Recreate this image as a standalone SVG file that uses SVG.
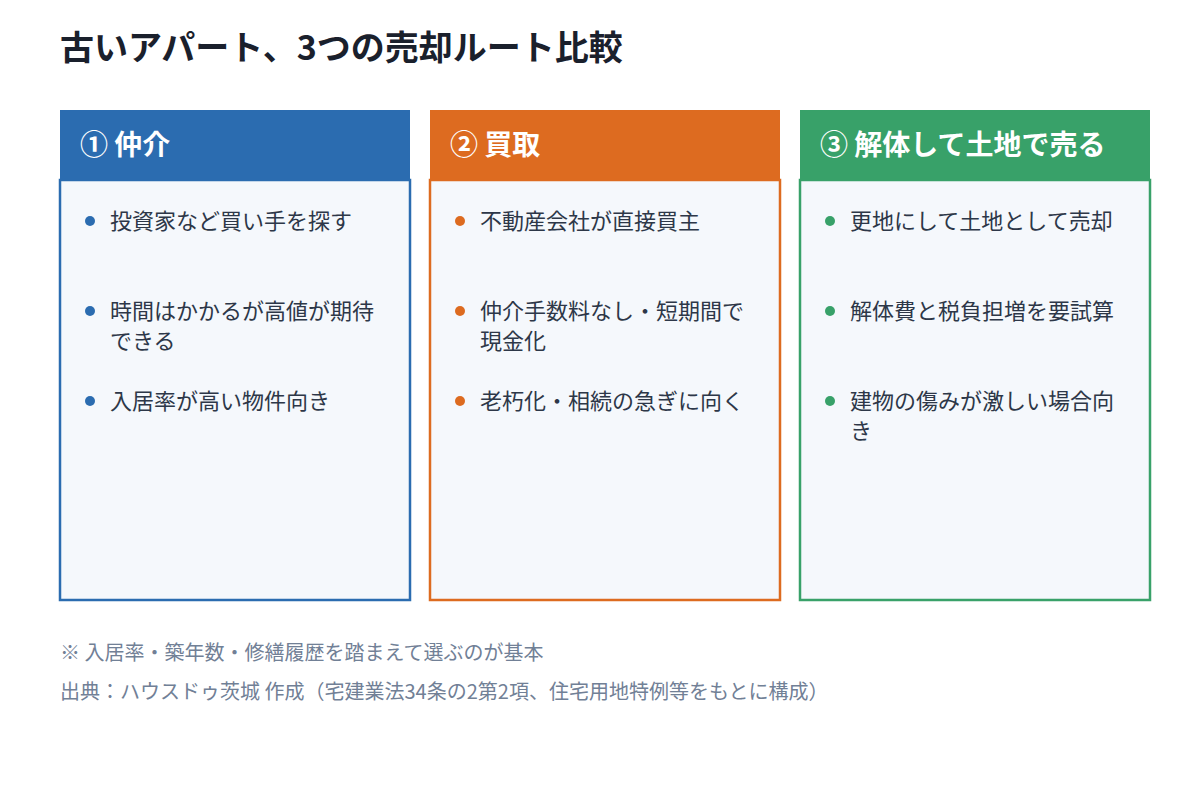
<svg xmlns="http://www.w3.org/2000/svg" width="1200" height="800" viewBox="0 0 1200 800">
<style>
text{font-family:"Noto Sans CJK JP","Noto Sans",sans-serif}
.title{font-size:34px;font-weight:700;fill:#1a202c}
.hd{font-size:28px;font-weight:700;fill:#fff}
.it{font-size:22px;fill:#2d3748}
.ft{font-size:20px;fill:#718096}
.body{fill:#f5f8fc;stroke-width:2.5}
</style>
<rect width="1200" height="800" fill="#fff"/>
<text class="title" x="60" y="60">古いアパート、3つの売却ルート比較</text>
<g id="col1">
<rect class="body" x="60" y="180" width="350" height="420" stroke="#2b6cb0"/>
<rect x="60" y="110" width="350" height="70" fill="#2b6cb0"/>
<text class="hd" x="80" y="155">① 仲介</text>
<circle cx="90" cy="221" r="5" fill="#2b6cb0"/>
<text class="it" x="110" y="229">投資家など買い手を探す</text>
<circle cx="90" cy="311" r="5" fill="#2b6cb0"/>
<text class="it" x="110" y="319">時間はかかるが高値が期待</text>
<text class="it" x="110" y="349">できる</text>
<circle cx="90" cy="401" r="5" fill="#2b6cb0"/>
<text class="it" x="110" y="409">入居率が高い物件向き</text>
</g>
<g id="col2">
<rect class="body" x="430" y="180" width="350" height="420" stroke="#dd6b20"/>
<rect x="430" y="110" width="350" height="70" fill="#dd6b20"/>
<text class="hd" x="450" y="155">② 買取</text>
<circle cx="460" cy="221" r="5" fill="#dd6b20"/>
<text class="it" x="480" y="229">不動産会社が直接買主</text>
<circle cx="460" cy="311" r="5" fill="#dd6b20"/>
<text class="it" x="480" y="319">仲介手数料なし・短期間で</text>
<text class="it" x="480" y="349">現金化</text>
<circle cx="460" cy="401" r="5" fill="#dd6b20"/>
<text class="it" x="480" y="409">老朽化・相続の急ぎに向く</text>
</g>
<g id="col3">
<rect class="body" x="800" y="180" width="350" height="420" stroke="#38a169"/>
<rect x="800" y="110" width="350" height="70" fill="#38a169"/>
<text class="hd" x="820" y="155">③ 解体して土地で売る</text>
<circle cx="830" cy="221" r="5" fill="#38a169"/>
<text class="it" x="850" y="229">更地にして土地として売却</text>
<circle cx="830" cy="311" r="5" fill="#38a169"/>
<text class="it" x="850" y="319">解体費と税負担増を要試算</text>
<circle cx="830" cy="401" r="5" fill="#38a169"/>
<text class="it" x="850" y="409">建物の傷みが激しい場合向</text>
<text class="it" x="850" y="439">き</text>
</g>
<g id="connectors"></g>
<text class="ft" x="60" y="660">※ 入居率・築年数・修繕履歴を踏まえて選ぶのが基本</text>
<text class="ft" x="60" y="699">出典：ハウスドゥ茨城 作成（宅建業法34条の2第2項、住宅用地特例等をもとに構成）</text>
</svg>
